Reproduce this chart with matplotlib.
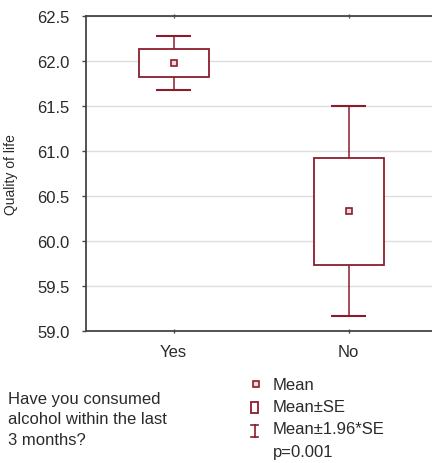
import matplotlib
matplotlib.use("Agg")
import matplotlib.pyplot as plt
from matplotlib.patches import Rectangle
from matplotlib.lines import Line2D

plt.rcParams['font.family'] = ['Liberation Sans', 'DejaVu Sans']

groups = ['Yes', 'No']
means = [61.98, 60.33]
se = [0.153, 0.595]
yticks = [59.0, 59.5, 60.0, 60.5, 61.0, 61.5, 62.0, 62.5]

red = '#8c1c2c'
W, H = 432, 464

fig = plt.figure(figsize=(W / 100, H / 100), dpi=100)
ax = fig.add_axes([86 / W, 1 - 332 / H, 350 / W, 315 / H])

x = list(range(len(groups)))
lo = [m - s for m, s in zip(means, se)]
hi = [m + s for m, s in zip(means, se)]
lo2 = [m - 1.96 * s for m, s in zip(means, se)]
hi2 = [m + 1.96 * s for m, s in zip(means, se)]

# whiskers and caps
ax.vlines(x, hi, hi2, color=red, lw=1.1, zorder=3)
ax.vlines(x, lo2, lo, color=red, lw=1.1, zorder=3)
ax.hlines(hi2, [i - 0.1 for i in x], [i + 0.1 for i in x], color=red, lw=1.5, zorder=3)
ax.hlines(lo2, [i - 0.1 for i in x], [i + 0.1 for i in x], color=red, lw=1.5, zorder=3)
# boxes
ax.bar(x, [h - l for h, l in zip(hi, lo)], bottom=lo, width=0.4,
       color='white', edgecolor=red, lw=1.3, zorder=3)
# means
ax.plot(x, means, ls='none', marker='s', ms=4, mfc='#f0d8d8', mec=red, mew=1.2, zorder=4)

ax.set_xlim(-0.5, 1.5)
ax.set_ylim(59.0, 62.5)
ax.set_xticks(x)
ax.set_xticklabels(groups)
ax.set_yticks(yticks)
ax.set_yticklabels([f'{v:.1f}' for v in yticks])
ax.yaxis.grid(True, color='#dcdcdc', lw=1)
ax.set_axisbelow(True)
for s in ['left', 'top', 'bottom']:
    ax.spines[s].set_color('#444444')
    ax.spines[s].set_linewidth(1.3)
ax.spines['right'].set_visible(False)
ax.tick_params(axis='y', labelsize=12, length=3, width=1, color='#444444', pad=9, labelcolor='#2a2a2a')
ax.tick_params(axis='x', labelsize=12, length=3, width=1, color='#444444', pad=8,
               direction='inout', top=True, labelcolor='#2a2a2a')
ax.set_ylabel('Quality of life', fontsize=10, color='#2a2a2a')
ax.yaxis.set_label_coords((18 - 86) / 350, 0.5)

# caption
fig.text(8 / W, 1 - 392 / H, 'Have you consumed\nalcohol within the last\n3 months?',
         fontsize=12, color='#2a2a2a', ha='left', va='top', linespacing=1.45)


def fx(px):
    return px / W


def fy(py):
    return 1 - py / H


# legend
fig.add_artist(Line2D([fx(256)], [fy(385)], marker='s', ms=4, mfc='#f0d8d8', mec=red, mew=1.2))
fig.add_artist(Rectangle((fx(251), fy(414)), 7 / W, 11 / H, fill=False, ec=red, lw=1.3,
                         transform=fig.transFigure))
fig.add_artist(Line2D([fx(254.5), fx(254.5)], [fy(426), fy(438)], color=red, lw=1.2))
fig.add_artist(Line2D([fx(251), fx(258)], [fy(426), fy(426)], color=red, lw=1.2))
fig.add_artist(Line2D([fx(251), fx(258)], [fy(438), fy(438)], color=red, lw=1.2))
labels = ['Mean', 'Mean±SE', 'Mean±1.96*SE', 'p=0.001']
for i, t in enumerate(labels):
    fig.text(fx(273), fy(385 + 22.5 * i), t, fontsize=12, color='#2a2a2a', ha='left', va='center')

fig.savefig('out.png', dpi=100)
